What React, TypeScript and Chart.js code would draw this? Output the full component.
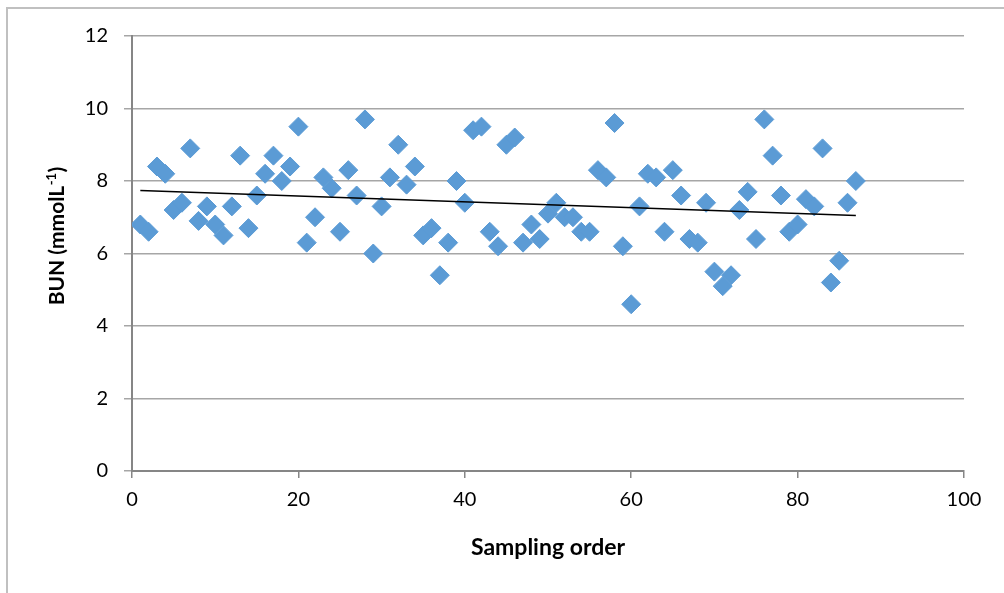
import React, { useEffect, useRef } from "react";
import { Chart, registerables } from "chart.js";

Chart.register(...registerables);

const sampleOrder: number[] = [
  1, 2, 3, 4, 5, 6, 7, 8, 9, 10, 11, 12, 13, 14, 15, 16, 17, 18, 19, 20,
  21, 22, 23, 24, 25, 26, 27, 28, 29, 30, 31, 32, 33, 34, 35, 36, 37, 38, 39, 40,
  41, 42, 43, 44, 45, 46, 47, 48, 49, 50, 51, 52, 53, 54, 55, 56, 57, 58, 59, 60,
  61, 62, 63, 64, 65, 66, 67, 68, 69, 70, 71, 72, 73, 74, 75, 76, 77, 78, 79, 80,
  81, 82, 83, 84, 85, 86, 87,
];

const bunValues: number[] = [
  6.8, 6.6, 8.4, 8.2, 7.2, 7.4, 8.9, 6.9, 7.3, 6.8, 6.5, 7.3, 8.7, 6.7, 7.6, 8.2, 8.7, 8.0, 8.4, 9.5,
  6.3, 7.0, 8.1, 7.8, 6.6, 8.3, 7.6, 9.7, 6.0, 7.3, 8.1, 9.0, 7.9, 8.4, 6.5, 6.7, 5.4, 6.3, 8.0, 7.4,
  9.4, 9.5, 6.6, 6.2, 9.0, 9.2, 6.3, 6.8, 6.4, 7.1, 7.4, 7.0, 7.0, 6.6, 6.6, 8.3, 8.1, 9.6, 6.2, 4.6,
  7.3, 8.2, 8.1, 6.6, 8.3, 7.6, 6.4, 6.3, 7.4, 5.5, 5.1, 5.4, 7.2, 7.7, 6.4, 9.7, 8.7, 7.6, 6.6, 6.8,
  7.5, 7.3, 8.9, 5.2, 5.8, 7.4, 8.0,
];

const xTicks: number[] = [0, 20, 40, 60, 80, 100];
const yTicks: number[] = [0, 2, 4, 6, 8, 10, 12];

const xTitle = "Sampling order";
const yTitleMain = "BUN (mmolL";
const yTitleSup = "-1";
const yTitleEnd = ")";

function linearFit(xs: number[], ys: number[]) {
  const n = xs.length;
  const mx = xs.reduce((a, b) => a + b, 0) / n;
  const my = ys.reduce((a, b) => a + b, 0) / n;
  let sxy = 0;
  let sxx = 0;
  for (let i = 0; i < n; i++) {
    sxy += (xs[i] - mx) * (ys[i] - my);
    sxx += (xs[i] - mx) * (xs[i] - mx);
  }
  const slope = sxy / sxx;
  return { slope, intercept: my - slope * mx };
}

const FAMILY = "Lato, 'Open Sans', sans-serif";

const titlePlugin = {
  id: "axisTitles",
  afterDraw(chart: any) {
    const ctx = chart.ctx as CanvasRenderingContext2D;
    ctx.save();
    ctx.fillStyle = "#000000";
    // X title
    ctx.font = `bold 23px ${FAMILY}`;
    ctx.textAlign = "center";
    ctx.textBaseline = "middle";
    const area = chart.chartArea;
    ctx.fillText(xTitle, (area.left + area.right) / 2 + 0, 548);
    // Y title with superscript
    const mainFont = `bold 21px ${FAMILY}`;
    const supFont = `bold 13px ${FAMILY}`;
    ctx.font = mainFont;
    const w1 = ctx.measureText(yTitleMain).width;
    const w3 = ctx.measureText(yTitleEnd).width;
    ctx.font = supFont;
    const w2 = ctx.measureText(yTitleSup).width;
    const total = w1 + w2 + w3 + 1;
    ctx.translate(57, 236);
    ctx.rotate(-Math.PI / 2);
    ctx.textAlign = "left";
    ctx.textBaseline = "alphabetic";
    let x = -total / 2;
    const base = 7;
    ctx.font = mainFont;
    ctx.fillText(yTitleMain, x, base);
    x += w1 + 0.5;
    ctx.font = supFont;
    ctx.fillText(yTitleSup, x, base - 8);
    x += w2 + 0.5;
    ctx.font = mainFont;
    ctx.fillText(yTitleEnd, x, base);
    ctx.restore();
  },
};

export default function App() {
  const canvasRef = useRef<HTMLCanvasElement | null>(null);

  useEffect(() => {
    const canvas = canvasRef.current;
    if (!canvas) return;
    const fit = linearFit(sampleOrder, bunValues);
    const xFirst = sampleOrder[0];
    const xLast = sampleOrder[sampleOrder.length - 1];
    const trend = [
      { x: xFirst, y: fit.intercept + fit.slope * xFirst },
      { x: xLast, y: fit.intercept + fit.slope * xLast },
    ];
    const points = sampleOrder.map((x, i) => ({ x, y: bunValues[i] }));
    const axisColor = "#868686";
    const gridColor = "#a6a6a6";
    const tickFont = { family: FAMILY, size: 20 };

    const chart = new Chart(canvas, {
      type: "scatter",
      data: {
        datasets: [
          {
            label: "BUN",
            data: points,
            pointStyle: "rectRot",
            pointRadius: 9.5,
            pointHoverRadius: 9.5,
            backgroundColor: "#5b9bd5",
            borderColor: "#5b9bd5",
            borderWidth: 1,
            order: 2,
          },
          {
            label: "Trend",
            type: "line",
            data: trend,
            borderColor: "#000000",
            borderWidth: 1.5,
            pointRadius: 0,
            fill: false,
            order: 1,
          },
        ],
      },
      options: {
        animation: false,
        responsive: false,
        maintainAspectRatio: false,
        layout: { padding: { left: 0, right: 40, top: 36, bottom: 0 } },
        plugins: {
          legend: { display: false },
          tooltip: { enabled: false },
        },
        scales: {
          x: {
            type: "linear",
            min: 0,
            max: 100,
            afterBuildTicks: (s: any) => {
              s.ticks = xTicks.map((v) => ({ value: v }));
            },
            afterFit: (s: any) => {
              s.height = 122;
            },
            ticks: {
              color: "#000000",
              font: tickFont,
              padding: 10,
              maxRotation: 0,
            },
            grid: {
              drawOnChartArea: false,
              drawTicks: true,
              tickLength: 7,
              color: axisColor,
              lineWidth: 1.5,
            },
            border: { color: axisColor, width: 2 },
          },
          y: {
            type: "linear",
            min: 0,
            max: 12,
            afterBuildTicks: (s: any) => {
              s.ticks = yTicks.map((v) => ({ value: v }));
            },
            afterFit: (s: any) => {
              s.width = 132;
            },
            ticks: {
              color: "#000000",
              font: tickFont,
              padding: 16,
            },
            grid: {
              drawOnChartArea: true,
              drawTicks: true,
              tickLength: 8,
              color: gridColor,
              lineWidth: 1.5,
            },
            border: { color: axisColor, width: 2 },
          },
        },
      },
      plugins: [titlePlugin],
    });
    return () => chart.destroy();
  }, []);

  return (
    <div style={{ position: "fixed", left: 0, top: 0, width: 1004, height: 593, background: "#ffffff" }}>
      <div
        style={{
          position: "absolute",
          left: 6,
          top: 7,
          right: 0,
          bottom: 0,
          borderLeft: "2px solid #c0c0c0",
          borderTop: "2px solid #c0c0c0",
        }}
      />
      <canvas ref={canvasRef} width={1004} height={593} style={{ position: "absolute", left: 0, top: 0 }} />
    </div>
  );
}
